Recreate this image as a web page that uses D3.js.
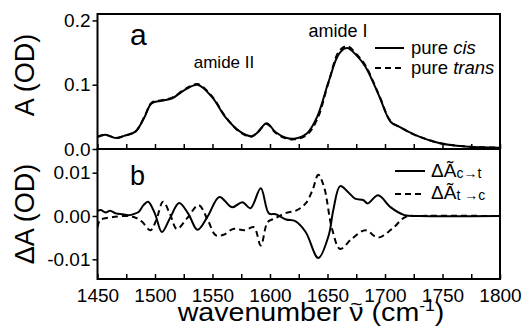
<!DOCTYPE html>
<html lang="en">
<head>
<meta charset="utf-8">
<title>cis / trans IR spectra</title>
<script src="https://cdnjs.cloudflare.com/ajax/libs/d3/7.8.5/d3.min.js"></script>
<style>
  body { margin: 0; background: #fff; }
  svg { display: block; font-family: "Liberation Sans", Arial, sans-serif; }
</style>
</head>
<body>
<div id="chart"></div>
<script>
// panel a: absorbance spectra
const wnA = [1450, 1457, 1466, 1474, 1483, 1491, 1497, 1506, 1515, 1526, 1537, 1550, 1561, 1574, 1584, 1590, 1597, 1605, 1613, 1621, 1632, 1641, 1651, 1660, 1667, 1675, 1683, 1695, 1705, 1713, 1726, 1748, 1770, 1800];
const cisA = [0.019, 0.022, 0.017, 0.021, 0.027, 0.050, 0.071, 0.075, 0.079, 0.092, 0.100, 0.080, 0.050, 0.027, 0.020, 0.027, 0.040, 0.026, 0.018, 0.016, 0.024, 0.050, 0.105, 0.148, 0.157, 0.146, 0.128, 0.082, 0.042, 0.034, 0.022, 0.009, 0.004, 0.002];
const transA = [0.019, 0.022, 0.017, 0.021, 0.027, 0.051, 0.072, 0.076, 0.080, 0.093, 0.101, 0.081, 0.051, 0.026, 0.019, 0.028, 0.039, 0.025, 0.017, 0.015, 0.022, 0.046, 0.104, 0.152, 0.160, 0.148, 0.130, 0.083, 0.043, 0.034, 0.022, 0.009, 0.004, 0.002];

// panel b: difference spectra
const wnC = [1450, 1453, 1457, 1461, 1466, 1472, 1477, 1482, 1486, 1490, 1494, 1500, 1506, 1513, 1521, 1529, 1537, 1546, 1556, 1567, 1576, 1583, 1592, 1599, 1605, 1614, 1622, 1631, 1642, 1651, 1655, 1661, 1668, 1674, 1681, 1685, 1694, 1705, 1717, 1730, 1800];
const dC = [0.0012, 0.0014, 0.0008, 0.0012, 0.0006, 0.0004, 0.0002, 0.0005, 0.0010, 0.0025, 0.0033, 0.0005, -0.0037, -0.0005, 0.0030, 0.0005, -0.0032, 0.0000, 0.0044, 0.0020, 0.0032, 0.0018, 0.0064, 0.0006, 0.0004, -0.0008, -0.0012, -0.0037, -0.0097, -0.0045, 0.0013, 0.0069, 0.0055, 0.0040, 0.0037, 0.0029, 0.0048, 0.0020, 0.0002, 0.0000, 0.0000];
const wnT = [1450, 1452, 1455, 1465, 1477, 1484, 1489, 1496, 1501, 1507, 1513, 1519, 1528, 1538, 1546, 1553, 1560, 1568, 1578, 1586, 1592, 1598, 1604, 1613, 1623, 1631, 1637, 1642, 1647, 1654, 1661, 1671, 1683, 1694, 1706, 1718, 1730, 1800];
const dT = [-0.0026, -0.0010, -0.0006, -0.0002, 0.0000, -0.0005, -0.0014, -0.0033, -0.0010, 0.0033, 0.0005, -0.0030, -0.0005, 0.0025, -0.0010, -0.0045, -0.0043, -0.0030, -0.0033, -0.0026, -0.0068, -0.0014, -0.0006, 0.0006, 0.0013, 0.0029, 0.0060, 0.0095, 0.0067, -0.0030, -0.0076, -0.0053, -0.0033, -0.0050, -0.0030, -0.0002, 0.0000, 0.0000];

const xTicks = [1450, 1500, 1550, 1600, 1650, 1700, 1750, 1800];
const xMinor = [1475, 1525, 1575, 1625, 1675, 1725, 1775];
const aTicks = [0, 0.1, 0.2];
const aTickLabels = ["0.0", "0.1", "0.2"];
const bTicks = [-0.01, 0, 0.01];
const bTickLabels = ["-0.01", "0.00", "0.01"];

const W = 527, H = 336;
const left = 97.5, right = 500, topA = 14, botA = 149, botB = 279;

const svg = d3.select("#chart").append("svg")
  .attr("width", W).attr("height", H);

const x = d3.scaleLinear().domain([1450, 1800]).range([left, right]);
const yA = d3.scaleLinear().domain([0, 0.21]).range([botA, topA]);
const yB = d3.scaleLinear().domain([-0.01455, 0.01547]).range([botB, botA]);

const clip = svg.append("defs");
clip.append("clipPath").attr("id", "clipA").append("rect")
  .attr("x", left).attr("y", topA).attr("width", right - left).attr("height", botA - topA);
clip.append("clipPath").attr("id", "clipB").append("rect")
  .attr("x", left).attr("y", botA).attr("width", right - left).attr("height", botB - botA);

function drawCurve(xs, ys, yScale, dashed, clipId) {
  const pts = xs.map((v, i) => [v, ys[i]]);
  const line = d3.line()
    .x(d => x(d[0]))
    .y(d => yScale(d[1]))
    .curve(d3.curveCatmullRom.alpha(0.5));
  svg.append("path")
    .attr("clip-path", "url(#" + clipId + ")")
    .attr("d", line(pts))
    .attr("fill", "none")
    .attr("stroke", "#000")
    .attr("stroke-width", 2)
    .attr("stroke-dasharray", dashed ? "6,4" : null);
}

drawCurve(wnA, transA, yA, true, "clipA");
drawCurve(wnA, cisA, yA, false, "clipA");
drawCurve(wnT, dT, yB, true, "clipB");
drawCurve(wnC, dC, yB, false, "clipB");

// x axes with inward ticks (bottom of each panel)
[botA, botB].forEach(function (yy, k) {
  const ax = d3.axisBottom(x).tickValues(xTicks).tickSizeInner(-5).tickSizeOuter(0)
    .tickFormat(k === 1 ? d3.format("d") : "");
  const g = svg.append("g").attr("transform", "translate(0," + yy + ")").call(ax);
  g.select(".domain").remove();
  g.selectAll("line").attr("stroke-width", 1.5);
  g.selectAll("text").attr("font-size", 19).attr("fill", "#000").attr("dy", "0.72em").attr("y", 9);
  const gm = svg.append("g").attr("transform", "translate(0," + yy + ")")
    .call(d3.axisBottom(x).tickValues(xMinor).tickSizeInner(-5).tickSizeOuter(0).tickFormat(""));
  gm.select(".domain").remove();
  gm.selectAll("line").attr("stroke-width", 1.5);
});

// y axes with outward ticks
const gA = svg.append("g").attr("transform", "translate(" + left + ",0)")
  .call(d3.axisLeft(yA).tickValues(aTicks).tickSize(5).tickPadding(2)
    .tickFormat((d, i) => aTickLabels[i]));
gA.select(".domain").remove();
const gB = svg.append("g").attr("transform", "translate(" + left + ",0)")
  .call(d3.axisLeft(yB).tickValues(bTicks).tickSize(5).tickPadding(2)
    .tickFormat((d, i) => bTickLabels[i]));
gB.select(".domain").remove();
[gA, gB].forEach(g => {
  g.selectAll("line").attr("stroke-width", 1.5);
  g.selectAll("text").attr("font-size", 19).attr("fill", "#000");
});

// frames
svg.append("rect").attr("x", left).attr("y", topA).attr("width", right - left).attr("height", botA - topA)
  .attr("fill", "none").attr("stroke", "#000").attr("stroke-width", 2);
svg.append("rect").attr("x", left).attr("y", botA).attr("width", right - left).attr("height", botB - botA)
  .attr("fill", "none").attr("stroke", "#000").attr("stroke-width", 2);

// panel letters and annotations
svg.append("text").attr("x", 130).attr("y", 45).attr("font-size", 30).text("a");
svg.append("text").attr("x", 130).attr("y", 185).attr("font-size", 27).text("b");
svg.append("text").attr("x", 224).attr("y", 68).attr("font-size", 17).attr("text-anchor", "middle").text("amide II");
svg.append("text").attr("x", 338).attr("y", 37).attr("font-size", 18).attr("text-anchor", "middle").text("amide I");

// legend a
svg.append("line").attr("x1", 375).attr("x2", 404).attr("y1", 48).attr("y2", 48)
  .attr("stroke", "#000").attr("stroke-width", 2);
svg.append("line").attr("x1", 375).attr("x2", 404).attr("y1", 68).attr("y2", 68)
  .attr("stroke", "#000").attr("stroke-width", 2).attr("stroke-dasharray", "6,4");
const la1 = svg.append("text").attr("x", 411).attr("y", 54).attr("font-size", 18.5);
la1.append("tspan").text("pure ");
la1.append("tspan").attr("font-style", "italic").text("cis");
const la2 = svg.append("text").attr("x", 411).attr("y", 74).attr("font-size", 18.5);
la2.append("tspan").text("pure ");
la2.append("tspan").attr("font-style", "italic").text("trans");

// legend b
svg.append("line").attr("x1", 395).attr("x2", 425).attr("y1", 171).attr("y2", 171)
  .attr("stroke", "#000").attr("stroke-width", 2);
svg.append("line").attr("x1", 395).attr("x2", 425).attr("y1", 194).attr("y2", 194)
  .attr("stroke", "#000").attr("stroke-width", 2).attr("stroke-dasharray", "6,4");
const lb1 = svg.append("text").attr("x", 431).attr("y", 177).attr("font-size", 19);
lb1.append("tspan").text("\u0394\u00C3");
lb1.append("tspan").attr("font-size", 14).attr("dy", 1).text("c\u2192t");
const lb2 = svg.append("text").attr("x", 431).attr("y", 199).attr("font-size", 19);
lb2.append("tspan").text("\u0394\u00C3");
lb2.append("tspan").attr("font-size", 14).attr("dy", 1).text("t \u2192c");

// axis titles
const xg = svg.append("g").attr("transform", "translate(311,321) scale(1.1,1)");
const xt = xg.append("text").attr("x", 0).attr("y", 0).attr("font-size", 26).attr("text-anchor", "middle");
xt.append("tspan").text("wavenumber \u03BD (cm");
xt.append("tspan").attr("font-size", 16).attr("dy", -10).text("-1");
xt.append("tspan").attr("dy", 10).text(")");
// tilde over the nu
const nuIdx = 11;
const node = xt.node();
const nuStart = node.getStartPositionOfChar(nuIdx).x;
const nuEnd = node.getEndPositionOfChar(nuIdx).x;
xg.append("text").attr("x", (nuStart + nuEnd) / 2).attr("y", -11)
  .attr("font-size", 19).attr("text-anchor", "middle").text("~");

svg.append("text").attr("transform", "translate(34,75) rotate(-90)")
  .attr("font-size", 27).attr("text-anchor", "middle").text("A (OD)");
svg.append("text").attr("transform", "translate(34,214) rotate(-90)")
  .attr("font-size", 27).attr("text-anchor", "middle").text("\u0394A (OD)");
</script>
</body>
</html>
